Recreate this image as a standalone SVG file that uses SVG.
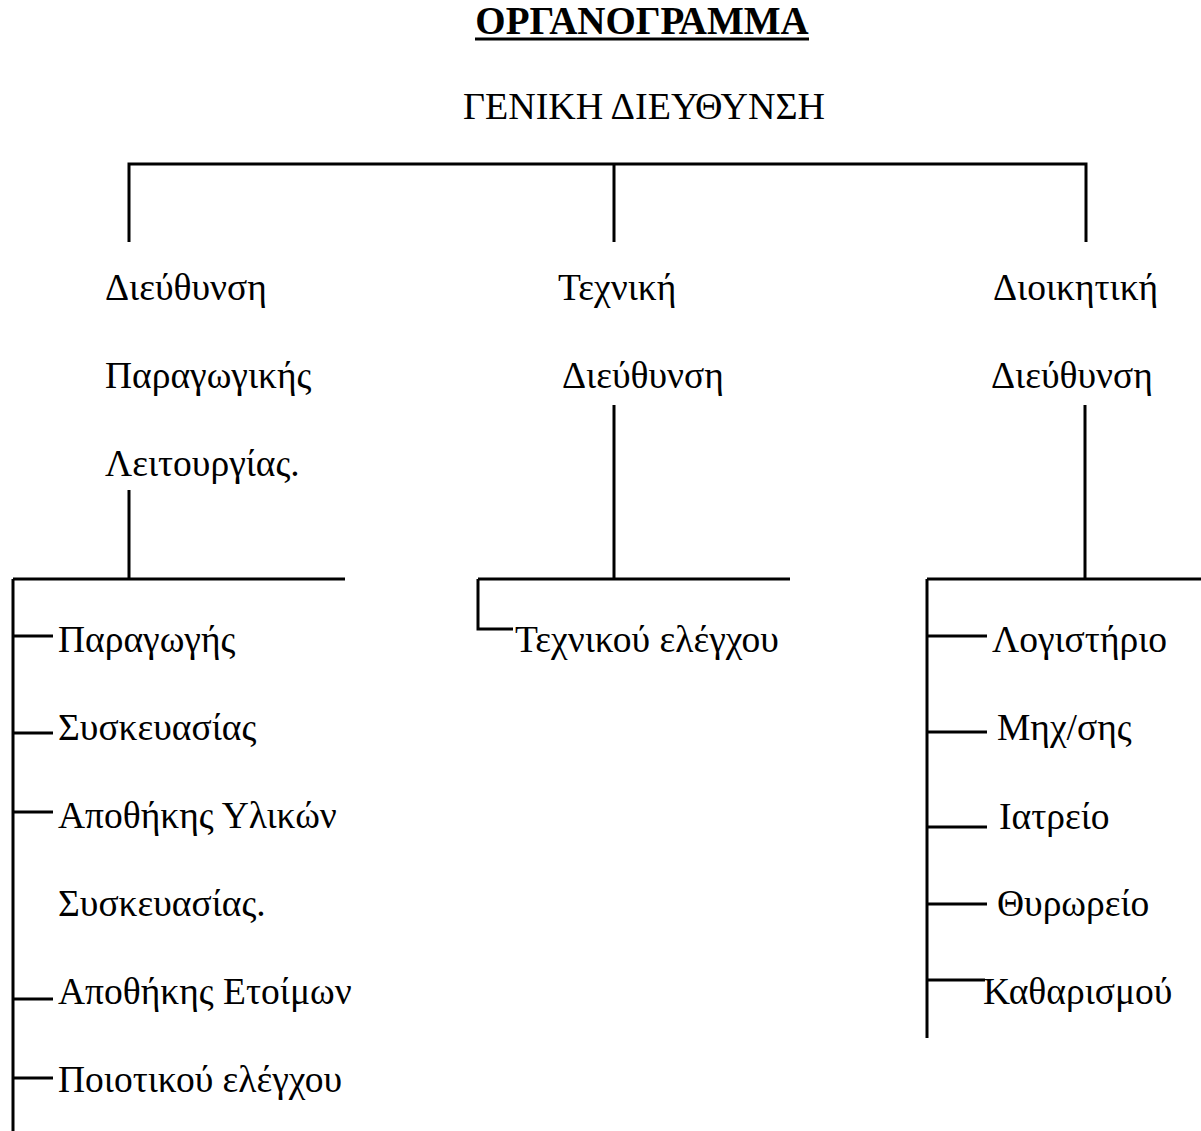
<svg xmlns="http://www.w3.org/2000/svg" width="1201" height="1131" viewBox="0 0 1201 1131">
<style>
text{font-family:"Liberation Serif","Times New Roman",serif;fill:#000;font-size:37.5px}
.t{font-weight:bold;font-size:39px}
.h{font-size:38px}
.c{stroke:#000;stroke-width:3;fill:none}
</style>
<rect width="1201" height="1131" fill="#fff"/>
<g id="title"><text class="t" x="642" y="34" text-anchor="middle">ΟΡΓΑΝΟΓΡΑΜΜΑ</text><line class="c" x1="475" y1="39" x2="809" y2="39"/></g>
<g id="general"><text class="h" x="644" y="119" text-anchor="middle">ΓΕΝΙΚΗ ΔΙΕΥΘΥΝΣΗ</text></g>
<g id="production"><text x="105" y="300">Διεύθυνση</text><text x="105" y="388">Παραγωγικής</text><text x="105" y="476">Λειτουργίας.</text></g>
<g id="technical"><text x="558" y="300">Τεχνική</text><text x="562" y="388">Διεύθυνση</text></g>
<g id="admin"><text x="993" y="300">Διοικητική</text><text x="991" y="388">Διεύθυνση</text></g>
<g id="p1"><text x="58" y="652">Παραγωγής</text></g>
<g id="p2"><text x="58" y="740">Συσκευασίας</text></g>
<g id="p3"><text x="58" y="828">Αποθήκης Υλικών</text><text x="58" y="916">Συσκευασίας.</text></g>
<g id="p4"><text x="58" y="1004">Αποθήκης Ετοίμων</text></g>
<g id="p5"><text x="58" y="1092">Ποιοτικού ελέγχου</text></g>
<g id="t1"><text x="515" y="652">Τεχνικού ελέγχου</text></g>
<g id="a1"><text x="992" y="652">Λογιστήριο</text></g>
<g id="a2"><text x="997" y="740">Μηχ/σης</text></g>
<g id="a3"><text x="999" y="829">Ιατρείο</text></g>
<g id="a4"><text x="997" y="916">Θυρωρείο</text></g>
<g id="a5"><text x="983" y="1004">Καθαρισμού</text></g>
<g id="connectors">
<path class="c" d="M129 242V164H1086V242M614 164V242"/>
<path class="c" d="M129 490V579M13 579H345M13 579V1131M13 636H53M13 733H53M13 812H53M13 999H53M13 1078H53"/>
<path class="c" d="M614 405V579M478 579H790M478 579V629H513"/>
<path class="c" d="M1085 405V579M927 579H1201M927 579V1038M927 636H987M927 732H987M927 827H987M927 904H987M927 980H985"/>
</g>
</svg>
